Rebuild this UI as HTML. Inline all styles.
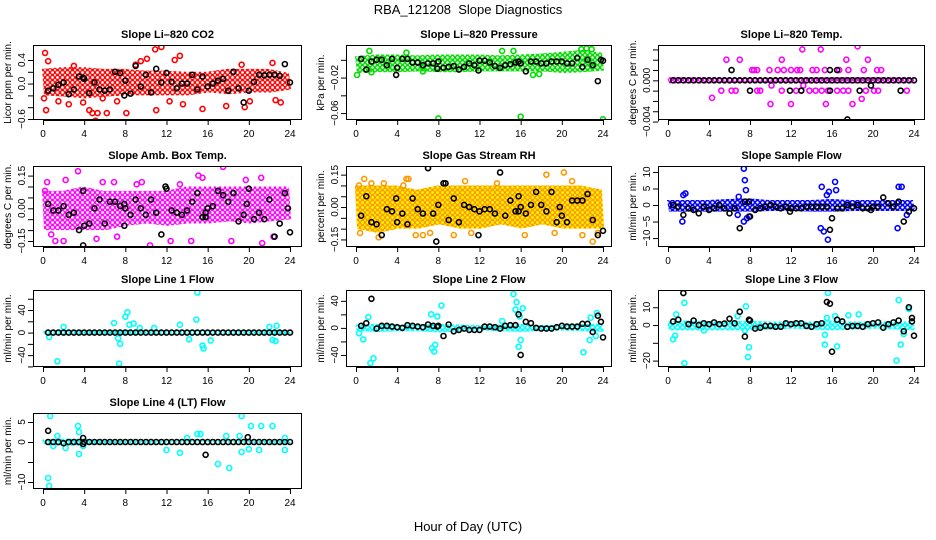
<!DOCTYPE html>
<html><head><meta charset="utf-8"><style>
html,body{margin:0;padding:0;background:#fff;}
svg{display:block;font-family:"Liberation Sans",sans-serif;}
</style></head><body>
<svg id="c" width="936" height="540" viewBox="0 0 936 540">
<defs>
<pattern id="p-red" width="5" height="5" patternUnits="userSpaceOnUse"><rect width="5" height="5" fill="#fff"/><circle cx="2.5" cy="2.5" r="2" fill="none" stroke="#ff0000" stroke-width="1.3"/></pattern>
<pattern id="p-green" width="5" height="5" patternUnits="userSpaceOnUse"><rect width="5" height="5" fill="#fff"/><circle cx="2.5" cy="2.5" r="2" fill="none" stroke="#00dd00" stroke-width="1.4"/></pattern>
<pattern id="p-mag" width="5" height="5" patternUnits="userSpaceOnUse"><rect width="5" height="5" fill="#fff"/><circle cx="2.5" cy="2.5" r="2" fill="none" stroke="#ff00ff" stroke-width="1.3"/></pattern>
<pattern id="p-orange" width="5" height="5" patternUnits="userSpaceOnUse"><rect width="5" height="5" fill="#ffff00"/><circle cx="2.5" cy="2.5" r="2" fill="none" stroke="#ff9900" stroke-width="1.3"/></pattern>
<pattern id="p-blue" width="5" height="5" patternUnits="userSpaceOnUse"><rect width="5" height="5" fill="#fff"/><circle cx="2.5" cy="2.5" r="2" fill="none" stroke="#0000ff" stroke-width="1.5"/></pattern>
<pattern id="p-cyan" width="5" height="5" patternUnits="userSpaceOnUse"><rect width="5" height="5" fill="#fff"/><circle cx="2.5" cy="2.5" r="2" fill="none" stroke="#00ffff" stroke-width="1.4"/></pattern>
</defs>
<text x="468" y="14" text-anchor="middle" font-size="13" xml:space="preserve">RBA_121208  Slope Diagnostics</text>
<text x="468" y="531" text-anchor="middle" font-size="13">Hour of Day (UTC)</text>
</svg>
<script>
// shared
const xTicks = [0,4,8,12,16,20,24];
const bandHours = [0,2,4,6,8,10,12,14,16,18,20,22,24];
const blackHours = [0.5,1,1.5,2,2.5,3,3.5,4,4.5,5,5.5,6,6.5,7,7.5,8,8.5,9,9.5,10,10.5,11,11.5,12,12.5,13,13.5,14,14.5,15,15.5,16,16.5,17,17.5,18,18.5,19,19.5,20,20.5,21,21.5,22,22.5,23,23.5,24];

// CO2
const co2BandLo = [-0.2,-0.22,-0.25,-0.22,-0.2,-0.2,-0.2,-0.2,-0.15,-0.18,-0.15,-0.15,-0.1];
const co2BandHi = [0.25,0.28,0.28,0.25,0.25,0.22,0.22,0.2,0.2,0.25,0.25,0.25,0.18];
const co2OutX = [0.2,0.3,0.5,1.5,3,4.5,4.8,5.1,5.3,5.8,6.2,8.1,9,9.5,10.1,10.9,11,11.5,12.3,12.8,13.3,13.6,15.5,17.8,19.3,19.6,20.1,22.3,22.6,23.1,0.1,2.5,7.2,3.9];
const co2OutY = [0.52,-0.45,0.38,-0.3,0.3,-0.45,-0.5,-0.63,-0.5,-0.25,-0.5,-0.5,0.32,0.38,0.42,0.58,-0.45,0.62,-0.3,0.4,0.47,-0.35,-0.43,-0.38,0.32,-0.4,-0.3,0.35,-0.28,-0.32,-0.25,-0.35,-0.3,-0.32];
const co2BlackY = [-0.12,-0.08,-0.02,0.02,-0.18,-0.1,0.12,0.08,-0.16,0.02,-0.1,-0.12,-0.1,0.2,0.18,0.05,-0.17,0.3,-0.05,0.15,-0.15,0.25,0.02,0.18,0.03,-0.08,0.0,0.0,0.15,-0.1,0.12,-0.05,0.0,0.05,0.08,-0.12,0.2,-0.08,-0.32,-0.12,0.03,0.15,0.14,0.15,0.15,0.13,0.33,0.02];
const co2ExtraX = [3.9,7.9];
const co2ExtraY = [0.1,-0.2];

// Pressure
const presBandLo = [-0.015,-0.014,-0.014,-0.013,-0.014,-0.014,-0.013,-0.013,-0.013,-0.013,-0.015,-0.014,-0.012];
const presBandHi = [0.004,0.006,0.006,0.005,0.006,0.006,0.006,0.005,0.006,0.007,0.009,0.011,0.008];
const presOutX = [1.3,4.9,8,16,24,14.2,15.3,17.2,17.8,0.1,21.9,22.4,22.9,1.5,6.5];
const presOutY = [0.01,0.008,-0.066,-0.064,-0.067,0.01,0.01,-0.017,-0.016,-0.017,0.012,0.013,0.012,-0.014,-0.013];
const presBlackY = [0.001,-0.011,-0.002,0.0,0.0,-0.006,0.001,-0.009,0.001,0.001,-0.003,-0.003,-0.006,-0.004,-0.004,-0.002,-0.009,-0.008,-0.007,-0.011,-0.008,-0.004,-0.006,-0.001,-0.001,-0.003,-0.007,-0.009,-0.006,-0.005,-0.003,-0.004,-0.013,-0.002,-0.002,-0.004,-0.004,-0.002,-0.002,-0.002,-0.004,-0.004,0.002,-0.008,0.0,-0.006,-0.024,-0.001];
const presExtraX = [3.9,7.9,11.9,15.8,23.8];
const presExtraY = [-0.017,-0.01,-0.012,-0.002,0.0];

// Temp
const tempBandLo = [-0.0003,-0.0003,-0.0003,-0.0003,-0.0003,-0.0003,-0.0003,-0.0003,-0.0003,-0.0003,-0.0003,-0.0003,-0.0003];
const tempBandHi = [0.0003,0.0003,0.0003,0.0003,0.0003,0.0003,0.0003,0.0003,0.0003,0.0003,0.0003,0.0003,0.0003];
const tempOutX = [5.7,7,8.2,8.4,8.7,9.9,10.7,11.1,11.3,12,12.6,12.9,13.1,14.1,14.5,14.9,15.3,16.7,17.4,17.6,18.5,19.1,19.5,20.4,20.8,4.3,5.2,6.2,6.6,8.7,9.0,10.0,11.1,12.0,12.5,13.0,13.2,13.8,14.4,15.0,15.4,15.6,16.5,17.1,17.6,18.0,18.9,19.3,20.1,20.5,23.3,10.1];
const tempOutY = [0.002,0.002,0.001,0.001,0.001,0.001,0.001,0.002,0.001,0.001,0.001,0.001,0.003,0.001,0.001,0.003,0.001,0.001,0.002,0.001,0.0033,0.001,0.002,0.001,0.001,-0.0017,-0.001,-0.001,-0.001,-0.001,-0.001,-0.0023,-0.001,-0.0023,-0.001,-0.001,-0.0005,-0.001,-0.001,-0.001,-0.0023,-0.001,-0.001,-0.001,-0.001,-0.0023,-0.0018,-0.001,-0.001,-0.001,-0.001,-0.0005];
const tempBlackY = [0,0,0,0,0,0,0,0,0,0,0,0,0,0,0,0,0,0,0,0,0,0,0,0,0,0,0,0,0,0,0,0,0,0,0,0,0,0,0,0,0,0,0,0,0,0,0,0];
const tempExtraX = [6.2,8,11.9,13,15.8,15.8,16.5,18.7,19.8,22.7,17.5];
const tempExtraY = [0.001,-0.001,-0.001,-0.001,0.001,-0.001,0.001,-0.001,-0.0005,-0.001,-0.0038];

// Amb box temp
const ambBandLo = [-0.1,-0.1,-0.1,-0.1,-0.08,-0.07,-0.08,-0.07,-0.07,-0.06,-0.07,-0.06,-0.05];
const ambBandHi = [0.08,0.08,0.1,0.08,0.08,0.08,0.08,0.1,0.1,0.1,0.1,0.1,0.1];
const ambOutX = [0.4,1.2,2.2,3.4,5.7,5.8,6.9,9.6,10.4,12.4,14.4,15.1,15.5,17.5,18.3,21.2,21.3,19.7,2,5.2,7.2,9.1,13.3,22.4,0.2,0.8];
const ambOutY = [0.12,-0.15,0.13,0.17,-0.19,0.12,0.12,0.12,-0.17,-0.15,-0.15,0.15,0.14,0.19,-0.15,0.14,-0.16,0.13,-0.15,-0.14,-0.13,0.11,0.11,-0.13,0.08,-0.12];
const ambBlackY = [0.02,-0.01,-0.01,0.01,-0.03,-0.02,-0.1,-0.08,-0.07,0.0,0.04,-0.07,0.03,0.03,0.01,0.0,-0.03,0.04,0.0,-0.03,0.04,-0.02,-0.12,0.09,-0.01,-0.02,-0.03,-0.01,0.03,0.07,-0.04,0.0,0.01,0.08,0.06,0.03,0.07,-0.06,-0.03,0.09,-0.05,-0.02,-0.05,0.04,-0.13,-0.07,0.07,-0.11];
const ambExtraX = [3.9,3.9,7.9,7.9,11.9,15.8,15.8,19.8,23.8];
const ambExtraY = [0.08,-0.17,-0.08,0.02,0.1,-0.04,-0.02,0.02,0.0];

// Gas stream RH
const rhBandLo = [-0.1,-0.12,-0.1,-0.1,-0.08,-0.1,-0.1,-0.08,-0.1,-0.08,-0.1,-0.1,-0.1];
const rhBandHi = [0.1,0.1,0.1,0.08,0.1,0.1,0.1,0.1,0.1,0.1,0.1,0.1,0.08];
const rhOutX = [0.3,0.8,1.5,2.2,0.4,4.9,5.1,6.5,5.8,7.2,9.5,10.6,11.2,13.7,16.4,18.5,19.3,20.2,22.0,23.0,23.5,21.0,2.7,4.6];
const rhOutY = [0.1,0.13,0.11,-0.14,-0.12,0.13,0.13,-0.13,-0.13,-0.12,-0.13,0.12,-0.12,0.11,-0.13,0.15,-0.12,0.16,-0.13,-0.16,-0.12,0.12,0.11,0.1];
const rhBlackY = [-0.04,0.05,-0.07,-0.08,-0.13,-0.01,-0.02,-0.07,-0.03,-0.08,0.04,-0.01,-0.03,0.18,-0.03,0.01,0.11,-0.06,0.04,-0.07,0.01,0.0,-0.01,-0.02,-0.01,-0.01,-0.03,0.16,-0.04,0.03,-0.02,0.0,-0.03,0.01,0.07,0.01,-0.02,0.07,-0.07,-0.04,-0.07,0.03,0.03,0.03,0.06,-0.06,-0.13,-0.11];
const rhExtraX = [7.8,11.9,15.8,15.8,8.7,3.9,19.8];
const rhExtraY = [-0.16,-0.13,0.05,-0.02,0.11,0.04,0.0];

// Sample flow
const sfBandLo = [-2,-2,-2,-2,-2,-1.8,-1.8,-2,-2,-1.8,-1.8,-1.8,-1.8];
const sfBandHi = [1.5,1.5,1.5,1.8,2,1.5,1.5,1.5,1.8,1.5,1.5,1.5,1.5];
const sfOutX = [1.4,1.5,1.7,7.4,7.5,7.6,7.4,7.7,7.9,6.9,15,15.2,15.6,14.9,15.7,16.3,16.4,22.4,22.5,22.8,23.3,15.5,6.8];
const sfOutY = [-5,3,3.5,11,7.5,4.5,-5,-4,-3.5,2.5,5.5,-8,-10.5,-7,4,7,4.5,-7,5.5,5.5,-3,3,-3];
const sfBlackY = [0,-0.5,-3,-1,-1.5,-2.5,-0.5,-1.5,-1,0,-1,-2.5,-1,-7,1,-3.5,-1.5,-1,-0.5,0,-0.5,-1,-0.5,-1,-1,-1,-0.5,-0.5,-0.5,-0.5,-0.5,-4,-1,-1,0,-0.5,0,-1,-1,-0.5,-0.5,2.3,0.5,-0.5,1,-5,-2,-1];
const sfExtraX = [15.8,7.9,11.9,19.8];
const sfExtraY = [-7.5,1,-2,-1.5];

// Line 1
const l1BandLo = [-3,-3,-3,-3,-4,-3,-3,-3,-3,-3,-3,-3,-3];
const l1BandHi = [3,4,3,4,5,4,3,4,4,3,3,4,3];
const l1OutX = [1.4,7.4,7.5,7.3,8,8.2,8.4,6.9,8.8,14.9,15,15.5,15.6,16.3,14.2,13.3,22.3,22.6,22,22.7,2,0.6,10.8,9.4];
const l1OutY = [-51,-55,-20,-10,28,36,14,17,16,23,71,-23,-28,-14,-12,14,-13,-15,10,12,10,-8,8,8];
const l1BlackY = [0,0,0,0,0,0,0,0,0,0,0,0,0,0,0,0,0,0,0,0,0,0,0,0,0,0,0,0,0,0,0,0,0,0,0,0,0,0,0,0,0,0,0,0,0,0,0,0];
const l1ExtraX = [];
const l1ExtraY = [];

// Line 2
const l2BandLo = [-5,-6,-5,-5,-7,-5,-4,-5,-6,-4,-4,-5,-6];
const l2BandHi = [5,6,5,5,6,5,4,5,6,4,4,6,6];
const l2OutX = [1.4,1.7,0.7,1.2,7.4,7.6,7.7,7.3,7.9,8.3,15.3,15.6,15.5,15.8,16,16.2,15.9,14.2,22.1,22.7,23.3,23.4,22.8,0.3];
const l2OutY = [-52,-45,-17,16,-30,-35,-25,20,17,33,50,38,27,-28,-18,29,17,10,-36,-18,-12,22,15,-8];
const l2BlackY = [3,7,43,-1,3,3,2,1,0,4,3,2,1,5,3,3,-12,5,-5,-3,-1,-3,-3,-3,2,2,1,-1,3,4,4,-40,9,7,0,-1,-1,-1,1,3,2,2,2,6,6,-6,18,-14];
const l2ExtraX = [15.8,23.8,7.9];
const l2ExtraY = [20,9,2];

// Line 3
const l3BandLo = [-3,-3,-3,-3,-3,-2.5,-2,-2.5,-3,-2.5,-2,-2.5,-3];
const l3BandHi = [2,2.5,2,2,2.5,2,2,2,2.5,2,2,2,2];
const l3OutX = [0.5,0.8,0.7,1.6,1.6,6.8,7.6,7.9,7.8,7.5,15.3,15.3,15.6,16.3,16.5,15.5,22.3,22.5,22.7,23.0,23.5,17.6,18.6,3.5];
const l3OutY = [-8,6,-6,12.5,-21.5,5,10.5,-12.5,-18,-3,-5.5,-11,18,5,-12,4,-20,14,-11,-5,9,5.5,6,-3];
const l3BlackY = [2,3,18,0.5,2.5,0,1,0.5,1.5,0.5,0.8,3.5,1,7.5,-6.5,2.5,-2,-1.5,-0.5,-0.5,-1,-1,1,0.5,1,1,-0.5,-1,0.5,1,13,-15,3,2,-1,-0.5,-0.5,-1,0.5,1,1.5,-1.5,0.5,1.5,2.5,-3.5,10,-6];
const l3ExtraX = [15.8,23.8,7.9,23.8];
const l3ExtraY = [12,4,3,2];

// Line 4
const l4BandLo = [-0.6,-1,-0.8,-0.3,-0.3,-0.3,-0.3,-0.3,-0.3,-0.3,-0.3,-0.3,-0.3];
const l4BandHi = [0.6,0.8,0.8,0.3,0.3,0.3,0.3,0.3,0.3,0.3,0.3,0.3,0.3];
const l4OutX = [0.5,0.6,0.7,1,1.4,2.2,3.4,3.5,3.5,3.9,12,13.3,14,15,15.3,17,17.8,18.1,19.1,19.3,19.3,20,20.2,21.2,21,22.3,23.5,23.5];
const l4OutY = [-9,-11,6.5,-1,1.5,-1.5,4,2.5,-3,-1,-2,-2.7,1,2,2,-5.5,1.5,-6.5,1.5,6.5,-2.5,-1.8,4,4,-2,4,1,-2];
const l4BlackY = [0,0,0,-0.3,0,0,0,0,0,0,0,0,0,0,0,0,0,0,0,0,0,0,0,0,0,0,0,0,0,0,0,0,0,0,0,0,0,0,0,0,0,0,0,0,0,0,0,0];
const l4ExtraX = [0.5,15.8,19.9,3.9,3.9];
const l4ExtraY = [2.8,-3.2,1.2,1,-0.5];

const NS = "http://www.w3.org/2000/svg";
const svg = document.getElementById('c');
function mk(tag, attrs, parent){ const e=document.createElementNS(NS,tag); for(const k in attrs) e.setAttribute(k,attrs[k]); (parent||svg).appendChild(e); return e; }

const panels = [
 {name:'co2',title:'Slope Li-820 CO2',ylab:'Licor ppm per min.',col:'#ff0000',pat:'p-red',c:0,r:0,ymin:-0.617,ymax:0.654,ticks:[-0.6,-0.4,-0.2,0,0.2,0.4],labs:[-0.6,0,0.4],fmt:1,lo:co2BandLo,hi:co2BandHi,ox:co2OutX,oy:co2OutY,by:co2BlackY,ex:co2ExtraX,ey:co2ExtraY},
 {name:'pressure',title:'Slope Li-820 Pressure',ylab:'kPa per min.',col:'#00dd00',pat:'p-green',c:1,r:0,ymin:-0.0678,ymax:0.0167,ticks:[-0.06,-0.04,-0.02,0],labs:[-0.06,-0.02],fmt:2,lo:presBandLo,hi:presBandHi,ox:presOutX,oy:presOutY,by:presBlackY,ex:presExtraX,ey:presExtraY},
 {name:'temp',title:'Slope Li-820 Temp.',ylab:'degrees C per min.',col:'#ff00ff',pat:'p-mag',c:2,r:0,ymin:-0.00385,ymax:0.00343,ticks:[-0.004,-0.003,-0.002,-0.001,0,0.001,0.002,0.003],labs:[-0.004,0],fmt:3,lo:tempBandLo,hi:tempBandHi,ox:tempOutX,oy:tempOutY,by:tempBlackY,ex:tempExtraX,ey:tempExtraY},
 {name:'amb-box-temp',title:'Slope Amb. Box Temp.',ylab:'degrees C per min.',col:'#ff00ff',pat:'p-mag',c:0,r:1,ymin:-0.1775,ymax:0.194,ticks:[-0.15,-0.1,-0.05,0,0.05,0.1,0.15],labs:[-0.15,0,0.15],fmt:2,lo:ambBandLo,hi:ambBandHi,ox:ambOutX,oy:ambOutY,by:ambBlackY,ex:ambExtraX,ey:ambExtraY},
 {name:'gas-rh',title:'Slope Gas Stream RH',ylab:'percent per min.',col:'#ff9900',pat:'p-orange',c:1,r:1,ymin:-0.185,ymax:0.19,ticks:[-0.15,-0.1,-0.05,0,0.05,0.1,0.15],labs:[-0.15,0,0.15],fmt:2,lo:rhBandLo,hi:rhBandHi,ox:rhOutX,oy:rhOutY,by:rhBlackY,ex:rhExtraX,ey:rhExtraY},
 {name:'sample-flow',title:'Slope Sample Flow',ylab:'ml/min per min.',col:'#0000ff',pat:'p-blue',c:2,r:1,ymin:-12.7,ymax:11.8,ticks:[-10,-5,0,5,10],labs:[-10,-5,0,5,10],fmt:0,lo:sfBandLo,hi:sfBandHi,ox:sfOutX,oy:sfOutY,by:sfBlackY,ex:sfExtraX,ey:sfExtraY},
 {name:'line1-flow',title:'Slope Line 1 Flow',ylab:'ml/min per min.',col:'#00ffff',pat:'p-cyan',c:0,r:2,ymin:-61,ymax:75.5,ticks:[-60,-40,-20,0,20,40,60],labs:[-40,0,40],fmt:0,lo:l1BandLo,hi:l1BandHi,ox:l1OutX,oy:l1OutY,by:l1BlackY,ex:l1ExtraX,ey:l1ExtraY},
 {name:'line2-flow',title:'Slope Line 2 Flow',ylab:'ml/min per min.',col:'#00ffff',pat:'p-cyan',c:1,r:2,ymin:-57.8,ymax:56,ticks:[-40,-20,0,20,40],labs:[-40,0,40],fmt:0,lo:l2BandLo,hi:l2BandHi,ox:l2OutX,oy:l2OutY,by:l2BlackY,ex:l2ExtraX,ey:l2ExtraY},
 {name:'line3-flow',title:'Slope Line 3 Flow',ylab:'ml/min per min.',col:'#00ffff',pat:'p-cyan',c:2,r:2,ymin:-23.6,ymax:19.7,ticks:[-20,-10,0,10],labs:[-20,0,10],fmt:0,lo:l3BandLo,hi:l3BandHi,ox:l3OutX,oy:l3OutY,by:l3BlackY,ex:l3ExtraX,ey:l3ExtraY},
 {name:'line4-flow',title:'Slope Line 4 (LT) Flow',ylab:'ml/min per min.',col:'#00ffff',pat:'p-cyan',c:0,r:3,ymin:-11.75,ymax:7.25,ticks:[-10,-5,0,5],labs:[-10,0,5],fmt:0,lo:l4BandLo,hi:l4BandHi,ox:l4OutX,oy:l4OutY,by:l4BlackY,ex:l4ExtraX,ey:l4ExtraY}
];
const colBox = [[33,302,43,290],[346,612,356,603],[658,925,668,914]];
const rowBox = [[45,120],[166,247],[290,367],[413,489]];

function fmtNum(v,d){ let s=v.toFixed(d); if(parseFloat(s)===0) s=(0).toFixed(d); return s.replace('-','\u2212'); }

panels.forEach(p=>{
  const [L,R,x0,x24]=colBox[p.c]; const [T,B]=rowBox[p.r];
  const xs = v => x0 + (x24-x0)*v/24;
  const ys = v => B - (B-T)*(v-p.ymin)/(p.ymax-p.ymin);
  const g = mk('g',{});
  
  
  const cp = mk('clipPath',{id:'clip-'+p.name},g); mk('rect',{x:L,y:T,width:R-L,height:B-T},cp);
  const t = mk('text',{x:(L+R)/2,y:T-7,'text-anchor':'middle','font-size':11,'font-weight':'bold'},g);
  t.textContent = p.title.replace('-', '\u2013');
  
  
  const yl = mk('text',{x:0,y:0,'text-anchor':'middle','font-size':10,transform:`translate(${L-22},${(T+B)/2}) rotate(-90)`},g);
  yl.textContent = p.ylab;
  
  
  const plot = mk('g',{'clip-path':`url(#clip-${p.name})`},g);
  
  
  // band
  let d='';
  bandHours.forEach((h,i)=>{ d += (i?'L':'M')+xs(h-0.1)+','+ys(p.hi[i]); });
  for(let i=bandHours.length-1;i>=0;i--) d += 'L'+xs(bandHours[i]+0.1)+','+ys(p.lo[i]);
  const band = mk('path',{d:d+'Z',fill:`url(#${p.pat})`,stroke:'none'},plot);
  
  
  // colored points
  p.ox.forEach((x,i)=>{
    const c = mk('circle',{cx:xs(x),cy:ys(p.oy[i]),r:2.5,fill:'none',stroke:p.col,'stroke-width':1.6},plot);
    
    
  });
  // black points
  blackHours.forEach((x,i)=>{
    const c = mk('circle',{cx:xs(x),cy:ys(p.by[i]),r:2.5,fill:'none',stroke:'#000','stroke-width':1.6},plot);
    
    
  });
  p.ex.forEach((x,i)=>{
    const c = mk('circle',{cx:xs(x),cy:ys(p.ey[i]),r:2.5,fill:'none',stroke:'#000','stroke-width':1.6},plot);
    
    
  });
  // box
  const box = mk('rect',{x:L+0.5,y:T+0.5,width:R-L-1,height:B-T-1,fill:'none',stroke:'#000','stroke-width':1},g);
  
  
  // x axis
  mk('line',{x1:xs(0),x2:xs(24),y1:B+0.5,y2:B+0.5,stroke:'#000'},g);
  xTicks.forEach(v=>{
    mk('line',{x1:xs(v)+0.5,x2:xs(v)+0.5,y1:B,y2:B+5,stroke:'#000'},g);
    const tl = mk('text',{x:xs(v),y:B+17,'text-anchor':'middle','font-size':10},g);
    tl.textContent = v;
    
    
  });
  // y axis
  mk('line',{x1:L+0.5,x2:L+0.5,y1:ys(p.ticks[0]),y2:ys(p.ticks[p.ticks.length-1]),stroke:'#000'},g);
  p.ticks.forEach(v=>{ mk('line',{x1:L-5,x2:L,y1:ys(v)+0.5,y2:ys(v)+0.5,stroke:'#000'},g); });
  p.labs.forEach(v=>{
    const tl = mk('text',{x:0,y:0,'text-anchor':'middle','font-size':10,transform:`translate(${L-8},${ys(v)}) rotate(-90)`},g);
    tl.textContent = fmtNum(v,p.fmt);
    
    
  });
});
</script>
</body></html>
